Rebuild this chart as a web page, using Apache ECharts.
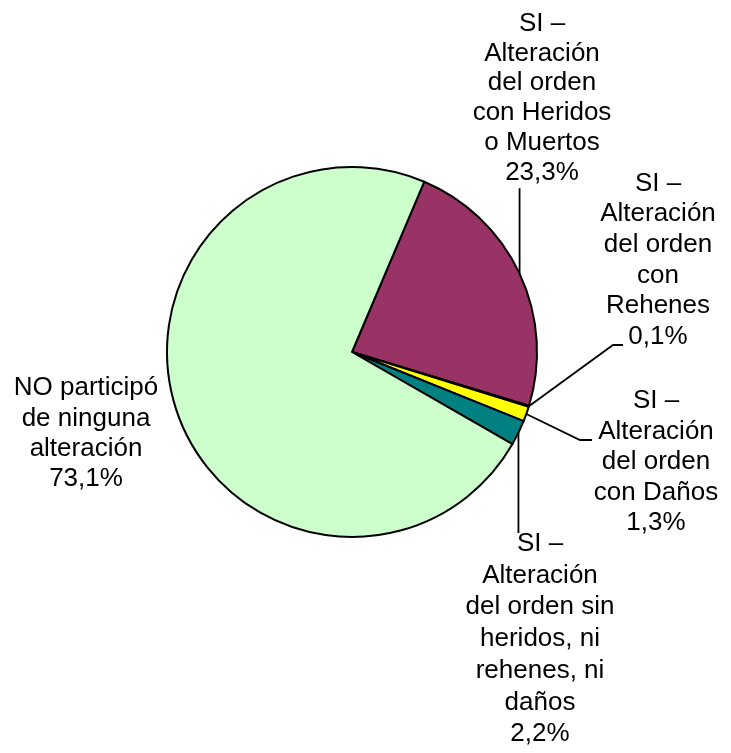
<!DOCTYPE html>
<html>
<head>
<meta charset="utf-8">
<script src="https://cdn.jsdelivr.net/npm/echarts@6/dist/echarts.min.js"></script>
<style>
  html, body { margin: 0; padding: 0; background: #fff; }
  #chart { width: 731px; height: 753px; }
</style>
</head>
<body>
<div id="chart"></div>
<script>
const categories = [
  'SI –\nAlteración\ndel orden\ncon Heridos\no Muertos',
  'SI –\nAlteración\ndel orden\ncon\nRehenes',
  'SI –\nAlteración\ndel orden\ncon Daños',
  'SI –\nAlteración\ndel orden sin\nheridos, ni\nrehenes, ni\ndaños',
  'NO participó\nde ninguna\nalteración'
];
const values = [23.3, 0.1, 1.3, 2.2, 73.1];
const colors = ['#993366', '#3366CC', '#FFFF00', '#008080', '#CCFFCC'];

// label placement (center-top of each text block) and leader style
const labelPos = [
  { x: 542, y: 9, lh: 29.7, line: 'up' },
  { x: 658, y: 168, lh: 30.7, line: 'elbow', turn: [613, 345], end: 623 },
  { x: 656, y: 386, lh: 30.4, line: 'elbow', turn: [580, 440], end: 592 },
  { x: 540, y: 528, lh: 31.7, line: 'down' },
  { x: 86, y: 373, lh: 30.3, line: 'none' }
];

const fmt = v => v.toFixed(1).replace('.', ',') + '%';

const chart = echarts.init(document.getElementById('chart'));
chart.setOption({
  animation: false,
  series: [{
    type: 'pie',
    center: [352, 352],
    radius: 185,
    startAngle: 67,
    clockwise: true,
    avoidLabelOverlap: false,
    emphasis: { disabled: true },
    itemStyle: { borderColor: '#000', borderWidth: 2 },
    label: {
      show: true,
      position: 'outside',
      fontFamily: '"Liberation Sans", Arial, sans-serif',
      fontSize: 26,
      color: '#000',
      align: 'center',
      formatter: p => p.name + '\n' + fmt(p.value)
    },
    labelLine: { show: true, lineStyle: { color: '#000', width: 1.8 } },
    labelLayout: params => {
      const L = labelPos[params.dataIndex];
      const n = categories[params.dataIndex].split('\n').length + 1;
      const out = { x: L.x, y: L.y, align: 'center', verticalAlign: 'top' };
      const a = params.labelLinePoints && params.labelLinePoints[0];
      if (a) {
        if (L.line === 'up') {
          const yb = L.y + n * L.lh + 1;
          out.labelLinePoints = [a, [a[0], yb], [a[0], yb]];
        } else if (L.line === 'down') {
          const yt = L.y + 5;
          out.labelLinePoints = [a, [a[0], yt], [a[0], yt]];
        } else if (L.line === 'elbow') {
          out.labelLinePoints = [a, L.turn, [L.end, L.turn[1]]];
        }
      }
      return out;
    },
    data: categories.map((name, i) => ({
      name: name,
      value: values[i],
      itemStyle: { color: colors[i] },
      label: { lineHeight: labelPos[i].lh },
      labelLine: { show: labelPos[i].line !== 'none' }
    }))
  }]
});
</script>
</body>
</html>
